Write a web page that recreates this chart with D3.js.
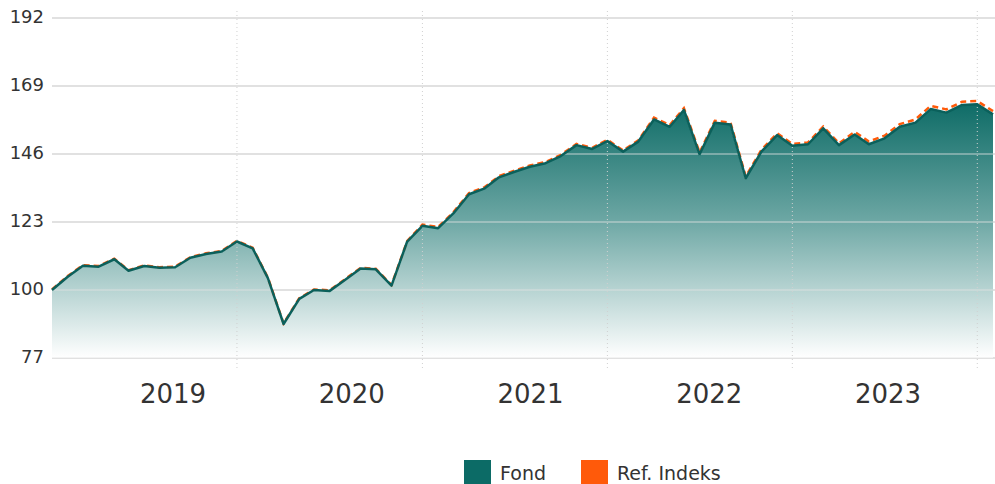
<!DOCTYPE html>
<html>
<head>
<meta charset="utf-8">
<script src="https://cdn.jsdelivr.net/npm/d3@7"></script>
<style>
    body { margin: 0; background: #fff; }
    #chart text { font-family: Verdana, "DejaVu Sans", sans-serif; fill: #333; }
</style>
</head>
<body>
<div id="chart"></div>
<script>
// Monthly values, indexed to 100 at the start
const months = [
    "2018-10", "2018-11", "2018-12", "2019-01", "2019-02", "2019-03", "2019-04", "2019-05", "2019-06", "2019-07",
    "2019-08", "2019-09", "2019-10", "2019-11", "2019-12", "2020-01", "2020-02", "2020-03", "2020-04", "2020-05",
    "2020-06", "2020-07", "2020-08", "2020-09", "2020-10", "2020-11", "2020-12", "2021-01", "2021-02", "2021-03",
    "2021-04", "2021-05", "2021-06", "2021-07", "2021-08", "2021-09", "2021-10", "2021-11", "2021-12", "2022-01",
    "2022-02", "2022-03", "2022-04", "2022-05", "2022-06", "2022-07", "2022-08", "2022-09", "2022-10", "2022-11",
    "2022-12", "2023-01", "2023-02", "2023-03", "2023-04", "2023-05", "2023-06", "2023-07", "2023-08", "2023-09",
    "2023-10", "2023-11"
];

const fond = [
    100.0, 104.5, 108.2, 107.9, 110.4, 106.5, 108.1, 107.5, 107.7, 110.9,
    112.2, 113.0, 116.4, 114.1, 104.0, 88.5, 97.0, 100.0, 99.7, 103.4,
    107.3, 107.0, 101.5, 116.4, 121.7, 120.9, 125.9, 132.4, 134.4, 138.1,
    140.0, 141.7, 142.9, 145.3, 149.0, 147.7, 150.4, 146.8, 150.2, 157.7,
    155.2, 160.9, 145.9, 156.6, 156.0, 137.8, 146.8, 152.4, 148.8, 149.3,
    154.7, 149.0, 152.6, 149.3, 151.3, 155.2, 156.6, 161.2, 160.0, 162.6,
    162.8, 159.4
];

const refIndeks = [
    100.2, 104.7, 108.4, 108.1, 110.6, 106.7, 108.3, 107.7, 107.9, 111.1,
    112.4, 113.2, 116.6, 114.3, 104.2, 88.7, 97.2, 100.2, 99.9, 103.6,
    107.5, 107.2, 101.7, 116.6, 122.1, 121.3, 126.3, 132.8, 134.8, 138.5,
    140.4, 142.1, 143.3, 145.7, 149.4, 148.1, 150.8, 147.2, 150.6, 158.3,
    155.8, 161.5, 146.5, 157.2, 156.6, 138.4, 147.4, 153.0, 149.4, 149.9,
    155.3, 149.6, 153.5, 150.2, 152.2, 156.1, 157.7, 162.3, 161.1, 163.7,
    163.9, 160.5
];

const yTicks = [77, 100, 123, 146, 169, 192];
const yearLabels = ["2019", "2020", "2021", "2022", "2023"];
const yearLines = ["2019-10", "2020-10", "2021-10", "2022-10", "2023-10"];
const legendItems = ["Fond", "Ref. Indeks"];

const parseMonth = d3.timeParse("%Y-%m");

function drawChart() {
    d3.select("#chart").html("");

    const width = 995, height = 484;
    const teal = "#0c6b66";
    const orange = "#ff5a0a";

    const svg = d3.select("#chart")
        .append("svg")
        .attr("width", width)
        .attr("height", height);

    const dates = months.map(parseMonth);
    const series = dates.map((d, i) => ({ date: d, fond: fond[i], ref: refIndeks[i] }));

    // Scales
    const xScale = d3.scaleTime()
        .domain(d3.extent(dates))
        .range([52, 993]);

    const yScale = d3.scaleLinear()
        .domain([77, 192])
        .range([358, 18]);

    const yearScale = d3.scalePoint()
        .domain(yearLabels)
        .range([173, 888]);

    // Gradient under the fund line
    const defs = svg.append("defs");
    const grad = defs.append("linearGradient")
        .attr("id", "fond-gradient")
        .attr("gradientUnits", "userSpaceOnUse")
        .attr("x1", 0).attr("x2", 0)
        .attr("y1", yScale(d3.max(fond)))
        .attr("y2", yScale(77));
    grad.append("stop").attr("offset", "0%").attr("stop-color", "#0f6c67");
    grad.append("stop").attr("offset", "45%").attr("stop-color", "#6ba6a3");
    grad.append("stop").attr("offset", "100%").attr("stop-color", "#ffffff");

    // Horizontal grid lines (under the area first)
    svg.append("g")
        .selectAll("line")
        .data(yTicks)
        .enter()
        .append("line")
        .attr("x1", 52)
        .attr("x2", width)
        .attr("y1", d => yScale(d))
        .attr("y2", d => yScale(d))
        .attr("stroke", "#d6d6d6")
        .attr("stroke-width", 1.5);

    // Area
    const area = d3.area()
        .x(d => xScale(d.date))
        .y0(yScale(77))
        .y1(d => yScale(d.fond));

    svg.append("path")
        .datum(series)
        .attr("d", area)
        .attr("fill", "url(#fond-gradient)");

    // Grid lines again, light, over the area
    svg.append("g")
        .selectAll("line")
        .data(yTicks)
        .enter()
        .append("line")
        .attr("x1", 52)
        .attr("x2", width)
        .attr("y1", d => yScale(d))
        .attr("y2", d => yScale(d))
        .attr("stroke", "#e4e4e4")
        .attr("stroke-opacity", 0.55)
        .attr("stroke-width", 1.5);

    // Dotted vertical lines
    svg.append("g")
        .selectAll("line")
        .data(yearLines.map(parseMonth))
        .enter()
        .append("line")
        .attr("x1", d => xScale(d))
        .attr("x2", d => xScale(d))
        .attr("y1", 11)
        .attr("y2", 368)
        .attr("stroke", "#d0d0d0")
        .attr("stroke-width", 1)
        .attr("stroke-dasharray", "1,3");

    // Reference index line (dashed, under the fund line)
    const refLine = d3.line()
        .x(d => xScale(d.date))
        .y(d => yScale(d.ref));

    svg.append("path")
        .datum(series)
        .attr("d", refLine)
        .attr("fill", "none")
        .attr("stroke", "#fff")
        .attr("stroke-width", 2.5);

    svg.append("path")
        .datum(series)
        .attr("d", refLine)
        .attr("fill", "none")
        .attr("stroke", orange)
        .attr("stroke-width", 2.5)
        .attr("stroke-dasharray", "6,4");

    // Fund line
    const fondLine = d3.line()
        .x(d => xScale(d.date))
        .y(d => yScale(d.fond));

    svg.append("path")
        .datum(series)
        .attr("d", fondLine)
        .attr("fill", "none")
        .attr("stroke", "#0b605b")
        .attr("stroke-width", 2.5)
        .attr("stroke-linejoin", "round");

    // Y tick labels
    svg.append("g")
        .selectAll("text")
        .data(yTicks)
        .enter()
        .append("text")
        .attr("x", 44)
        .attr("y", d => yScale(d))
        .attr("text-anchor", "end")
        .attr("dominant-baseline", "middle")
        .style("font-size", "18px")
        .text(d => d);

    // Year labels
    svg.append("g")
        .selectAll("text")
        .data(yearLabels)
        .enter()
        .append("text")
        .attr("x", d => yearScale(d))
        .attr("y", 403)
        .attr("text-anchor", "middle")
        .style("font-size", "26px")
        .text(d => d);

    // Legend
    const legend = svg.append("g");
    const legendX = [464, 581];
    const legendColors = [teal, orange];

    legend.selectAll("rect")
        .data(legendItems)
        .enter()
        .append("rect")
        .attr("x", (d, i) => legendX[i])
        .attr("y", 460)
        .attr("width", 27)
        .attr("height", 27)
        .attr("fill", (d, i) => legendColors[i]);

    legend.selectAll("text")
        .data(legendItems)
        .enter()
        .append("text")
        .attr("x", (d, i) => legendX[i] + 36)
        .attr("y", 480)
        .style("font-size", "19px")
        .text(d => d);
}

drawChart();
</script>
</body>
</html>
